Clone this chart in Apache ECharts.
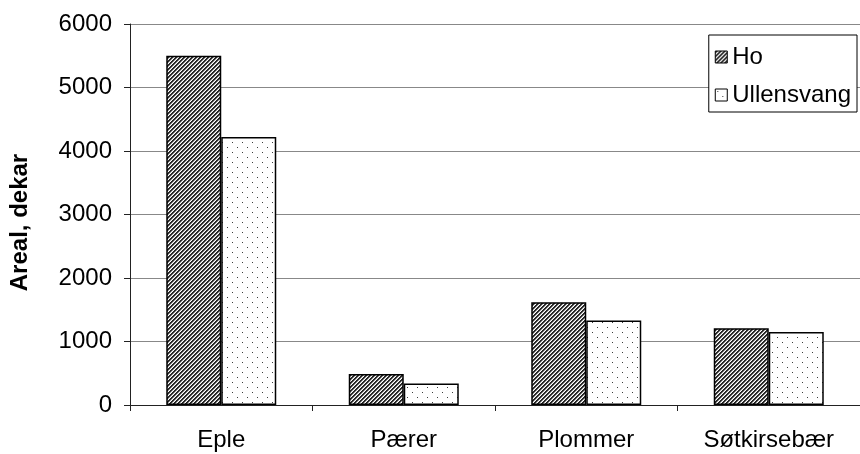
<!DOCTYPE html>
<html><head><meta charset="utf-8">
<script src="https://cdn.jsdelivr.net/npm/echarts@6/dist/echarts.min.js"></script>
<style>html,body{margin:0;padding:0;background:#fff}#c{width:860px;height:454px}</style>
</head><body><div id="c"></div>
<script>
const categories = ['Eple', 'Pærer', 'Plommer', 'Søtkirsebær'];
const hoValues = [5500, 490, 1620, 1210];
const ullensvangValues = [4220, 340, 1330, 1150];
const seriesNames = ['Ho', 'Ullensvang'];

function makePattern(w, h, fn) {
  const c = document.createElement('canvas');
  c.width = w; c.height = h;
  const ctx = c.getContext('2d');
  const img = ctx.createImageData(w, h);
  for (let y = 0; y < h; y++) for (let x = 0; x < w; x++) {
    const v = fn(x, y); const i = (y * w + x) * 4;
    img.data[i] = v; img.data[i + 1] = v; img.data[i + 2] = v; img.data[i + 3] = 255;
  }
  ctx.putImageData(img, 0, 0);
  return c;
}
const hatch = makePattern(4, 4, (x, y) => [40, 40, 170, 255][(x + y) % 4]);
const dots = makePattern(10, 10, (x, y) => ((x === 2 && y === 2) || (x === 7 && y === 7)) ? 60 : 255);

const font = "'Liberation Sans', Arial, sans-serif";
const chart = echarts.init(document.getElementById('c'), null, {renderer: 'canvas'});
chart.setOption({
  animation: false,
  backgroundColor: '#fff',
  grid: {left: 120, top: 24, width: 752, height: 381, containLabel: false},
  legend: {
    data: seriesNames, orient: 'vertical', right: 3, top: 35,
    backgroundColor: '#fff', borderColor: '#000', borderWidth: 1,
    padding: [10, 6, 5, 6], itemGap: 14, itemWidth: 12, itemHeight: 12, icon: 'rect',
    textStyle: {fontSize: 24, color: '#000', fontFamily: font},
    itemStyle: {borderColor: '#000', borderWidth: 1}
  },
  xAxis: {
    type: 'category', data: categories,
    axisLine: {lineStyle: {color: '#222', width: 1}},
    axisTick: {show: true, length: 6, lineStyle: {color: '#222'}},
    axisLabel: {fontSize: 24, color: '#000', fontFamily: font, margin: 23}
  },
  yAxis: {
    type: 'value', min: 0, max: 6000, interval: 1000,
    name: 'Areal, dekar', nameLocation: 'middle', nameRotate: 90, nameGap: 98,
    nameTextStyle: {fontSize: 24, fontWeight: 'bold', color: '#000', fontFamily: font, padding: [0, 16, 0, 0]},
    axisLine: {show: true, lineStyle: {color: '#222', width: 1}},
    axisTick: {show: true, length: 6, lineStyle: {color: '#222'}},
    axisLabel: {fontSize: 24, color: '#000', fontFamily: font, margin: 18, formatter: v => String(v)},
    splitLine: {lineStyle: {color: '#888', width: 1}}
  },
  series: [
    {name: seriesNames[0], type: 'bar', data: hoValues, barWidth: 55, barGap: '0%',
     itemStyle: {color: {image: hatch, repeat: 'repeat'}, borderColor: '#000', borderWidth: 1.5}},
    {name: seriesNames[1], type: 'bar', data: ullensvangValues, barWidth: 55, barGap: '0%',
     itemStyle: {color: {image: dots, repeat: 'repeat'}, borderColor: '#000', borderWidth: 1.5}}
  ]
});
</script></body></html>
